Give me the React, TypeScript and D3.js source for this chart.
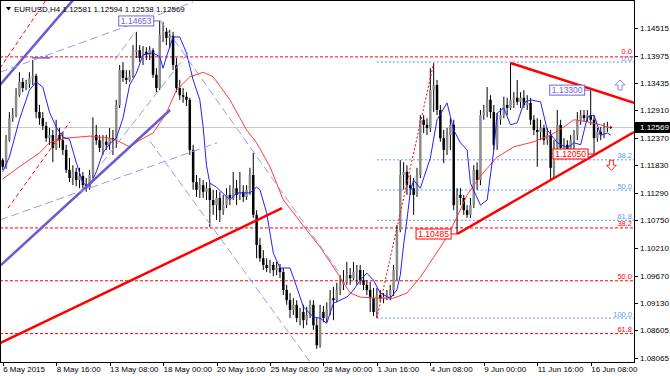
import React from 'react';
import * as d3 from 'd3';

const symbolName = 'EURUSD,H4';
const lastOHLC = [1.12581, 1.12594, 1.12538, 1.12569];

const timeLabels = ['6 May 2015', '8 May 16:00', '13 May 08:00', '18 May 00:00', '20 May 16:00', '25 May 08:00', '28 May 00:00', '1 Jun 16:00', '4 Jun 08:00', '9 Jun 00:00', '11 Jun 16:00', '16 Jun 08:00'];
const timeLabelBars = [0, 16, 32, 48, 64, 80, 96, 112, 128, 144, 160, 176];
const priceTicks = [1.14515, 1.13975, 1.13435, 1.1291, 1.1237, 1.1183, 1.1129, 1.1075, 1.1021, 1.0967, 1.0913, 1.08605, 1.08065];

const firstOpen = 1.1193;
const closes = [1.1180,1.1232,1.1275,1.1281,1.1320,1.1346,1.1334,1.1342,1.1354,1.1358,
1.1287,1.1275,1.1260,1.1236,1.1242,1.1217,1.1242,1.1232,1.1213,1.1174,
1.1158,1.1170,1.1154,1.1162,1.1144,1.1138,1.1164,1.1242,1.1232,1.1217,
1.1229,1.1223,1.1236,1.1232,1.1301,1.1369,1.1354,1.1350,1.1358,1.1405,
1.1408,1.1393,1.1405,1.1399,1.1408,1.1360,1.1334,1.1438,1.1444,1.1432,
1.1436,1.1379,1.1334,1.1320,1.1317,1.1311,1.1213,1.1150,1.1135,1.1144,
1.1131,1.1138,1.1115,1.1105,1.1119,1.1095,1.1105,1.1125,1.1119,1.1138,
1.1125,1.1131,1.1121,1.1135,1.1164,1.1086,1.1027,1.1001,1.0988,1.0982,
1.0988,1.0978,1.0982,1.0974,1.0939,1.0919,1.0900,1.0910,1.0884,1.0896,
1.0880,1.0890,1.0910,1.0870,1.0831,1.0896,1.0884,1.0900,1.0923,1.0919,
1.0939,1.0949,1.0955,1.0968,1.0962,1.0974,1.0978,1.0958,1.0949,1.0939,
1.0923,1.0896,1.0929,1.0923,1.0925,1.0929,1.0939,1.0978,1.1056,1.1164,
1.1170,1.1144,1.1138,1.1125,1.1164,1.1272,1.1262,1.1256,1.1330,1.1340,
1.1291,1.1236,1.1213,1.1242,1.1262,1.1105,1.1125,1.1119,1.1095,1.1086,
1.1105,1.1174,1.1154,1.1281,1.1287,1.1311,1.1287,1.1223,1.1272,1.1281,
1.1301,1.1295,1.1311,1.1315,1.1307,1.1315,1.1301,1.1305,1.1272,1.1252,
1.1248,1.1256,1.1232,1.1242,1.1178,1.1217,1.1262,1.1217,1.1223,1.1213,
1.1232,1.1242,1.1272,1.1281,1.1275,1.1281,1.1272,1.1236,1.1248,1.1242,
1.1256,1.12581,1.12569];
const highs = [1.1197,1.1242,1.1287,1.1295,1.1334,1.1365,1.1354,1.1350,1.1365,1.1389,
1.1362,1.1301,1.1287,1.1268,1.1256,1.1252,1.1272,1.1256,1.1248,1.1223,
1.1197,1.1183,1.1178,1.1178,1.1170,1.1158,1.1174,1.1277,1.1262,1.1242,
1.1242,1.1242,1.1256,1.1252,1.1311,1.1379,1.1385,1.1369,1.1369,1.1418,
1.1444,1.1418,1.1416,1.1414,1.1416,1.1412,1.1373,1.14653,1.1463,1.1452,
1.1448,1.1444,1.1393,1.1350,1.1334,1.1326,1.1315,1.1223,1.1164,1.1158,
1.1154,1.1150,1.1148,1.1135,1.1135,1.1131,1.1125,1.1138,1.1144,1.1170,
1.1154,1.1170,1.1144,1.1144,1.1178,1.1207,1.1095,1.1041,1.1017,1.1001,
1.0998,1.0994,1.0994,1.0990,1.0982,1.0949,1.0933,1.0923,1.0919,1.0904,
1.0910,1.0906,1.0919,1.0919,1.0884,1.0910,1.0908,1.0915,1.0939,1.0945,
1.0953,1.0968,1.0978,1.0994,1.0982,1.0994,1.0988,1.0988,1.0978,1.0958,
1.0955,1.0943,1.0943,1.0939,1.0933,1.0939,1.0949,1.0988,1.1066,1.1193,
1.1189,1.1183,1.1164,1.1158,1.1178,1.1281,1.1281,1.1275,1.1373,1.1383,
1.1350,1.1301,1.1252,1.1256,1.1275,1.1272,1.1138,1.1138,1.1125,1.1105,
1.1119,1.1183,1.1189,1.1291,1.1301,1.1336,1.1320,1.1301,1.1285,1.1295,
1.1317,1.1315,1.1383,1.1326,1.1350,1.1326,1.1330,1.1320,1.1315,1.1281,
1.1275,1.1272,1.1262,1.1256,1.1252,1.1232,1.1291,1.1272,1.1236,1.1232,
1.1242,1.1252,1.1287,1.1291,1.1291,1.1291,1.13300,1.1281,1.1256,1.1258,
1.1266,1.1268,1.12594];
const lows = [1.1174,1.1176,1.1229,1.1268,1.1277,1.1317,1.1326,1.1330,1.1334,1.1340,
1.1275,1.1262,1.1252,1.1229,1.1223,1.1189,1.1213,1.1217,1.1203,1.1168,
1.1150,1.1144,1.1142,1.1138,1.1138,1.1131,1.1135,1.1158,1.1223,1.1209,
1.1203,1.1213,1.1213,1.1203,1.1217,1.1295,1.1346,1.1342,1.1346,1.1354,
1.1393,1.1385,1.1379,1.1389,1.1389,1.1354,1.1326,1.1330,1.1424,1.1418,
1.1412,1.1369,1.1326,1.1311,1.1305,1.1299,1.1203,1.1135,1.1121,1.1119,
1.1119,1.1115,1.1062,1.1086,1.1076,1.1072,1.1086,1.1099,1.1105,1.1115,
1.1105,1.1115,1.1111,1.1115,1.1125,1.1080,1.1001,1.0994,1.0978,1.0974,
1.0972,1.0966,1.0968,1.0962,1.0929,1.0910,1.0884,1.0890,1.0876,1.0870,
1.0864,1.0870,1.0884,1.0861,1.0824,1.0826,1.0876,1.0876,1.0890,1.0880,
1.0915,1.0929,1.0939,1.0949,1.0949,1.0958,1.0949,1.0949,1.0939,1.0929,
1.0896,1.0888,1.0884,1.0915,1.0913,1.0919,1.0919,1.0927,1.0958,1.1052,
1.1135,1.1125,1.1125,1.1086,1.1121,1.1158,1.1246,1.1242,1.1248,1.1287,
1.1281,1.1229,1.1187,1.1203,1.1213,1.1095,1.10485,1.1105,1.1086,1.1080,
1.1080,1.1099,1.1135,1.1144,1.1272,1.1277,1.1275,1.1213,1.1213,1.1262,
1.1275,1.1281,1.1291,1.1295,1.1301,1.1295,1.1295,1.1291,1.1262,1.1242,
1.1180,1.1232,1.1223,1.1223,1.1154,1.1158,1.1209,1.1209,1.1209,1.1203,
1.1207,1.1213,1.1232,1.1262,1.1268,1.1268,1.1262,1.12050,1.1229,1.1232,
1.1236,1.1248,1.12538];

// moving averages traced as [bar, price]
const redMA = [[0,1.1156],[5,1.1180],[11,1.1207],[14,1.1227],[19,1.1236],[26,1.1240],[32,1.1236],[35,1.1229],[38,1.1219],[41,1.1232],[45,1.1246],[49,1.1285],[52,1.1330],[56,1.1356],[60,1.1365],[63,1.1356],[68,1.1311],[73,1.1252],[76,1.1227],[80,1.1180],[84,1.1115],[87,1.1090],[91,1.1056],[95,1.1023],[101,1.0964],[104,1.0933],[107,1.0925],[112,1.0923],[117,1.0923],[121,1.0933],[125,1.0964],[129,1.1003],[133,1.1043],[136,1.1082],[139,1.1125],[143,1.1162],[148,1.1199],[153,1.1219],[159,1.1229],[164,1.1242],[168,1.1258],[171,1.1272],[175,1.1268],[179,1.1262],[182,1.1256]];
const blueMA = [[0,1.1170],[2,1.1199],[5,1.1272],[8,1.1330],[10,1.1346],[12,1.1336],[14,1.1287],[16,1.1258],[18,1.1238],[20,1.1234],[22,1.1189],[24,1.1148],[26,1.1142],[28,1.1170],[30,1.1207],[32,1.1225],[34,1.1236],[36,1.1275],[38,1.1340],[40,1.1363],[42,1.1399],[45,1.1403],[47,1.1395],[48,1.1373],[49,1.1395],[51,1.1434],[53,1.1434],[55,1.1403],[57,1.1350],[59,1.1311],[60,1.1258],[61,1.1183],[62,1.1148],[64,1.1140],[68,1.1115],[70,1.1129],[74,1.1129],[76,1.1140],[77,1.1135],[79,1.1090],[81,1.1011],[83,1.0982],[86,1.0982],[88,1.0945],[90,1.0906],[93,1.0886],[95,1.0884],[97,1.0874],[99,1.0913],[101,1.0919],[103,1.0925],[105,1.0939],[107,1.0958],[109,1.0972],[111,1.0958],[113,1.0933],[116,1.0923],[118,1.0939],[119,1.0968],[120,1.1027],[121,1.1076],[122,1.1131],[123,1.1154],[125,1.1138],[128,1.1197],[130,1.1272],[133,1.1305],[135,1.1252],[137,1.1227],[139,1.1213],[140,1.1148],[143,1.1105],[145,1.1115],[147,1.1213],[148,1.1285],[150,1.1295],[152,1.1262],[154,1.1266],[156,1.1305],[158,1.1311],[161,1.1307],[163,1.1252],[166,1.1227],[169,1.1217],[171,1.1227],[173,1.1223],[175,1.1277],[177,1.1281],[179,1.1242],[181,1.1246],[182,1.1242]];

const redFibRange = [1.1395, 1.0519];
const redFibLevels = [0, 38.2, 50, 61.8];
const blueFibRange = [1.1385, 1.0884];
const blueFibLevels = [0, 38.2, 50, 61.8, 100];
const blueFibStartBar = 112;

const trendLines = [
  { kind: 'thick', from: [-0.81, 1.1340], to: [21.05, 1.1506] },
  { kind: 'thick', from: [-0.81, 1.0986], to: [50.1, 1.1291] },
  { kind: 'thin', from: [8.8, 1.1393], to: [14.2, 1.1393] },
  { kind: 'lav', from: [-0.81, 1.1365], to: [57.0, 1.1502] },
  { kind: 'lav', from: [-0.81, 1.1076], to: [64.2, 1.1227] },
  { kind: 'lav', from: [29.7, 1.1187], to: [56.1, 1.1408] },
  { kind: 'lav', from: [33.6, 1.1389], to: [39.0, 1.1438] },
  { kind: 'lav', from: [47.1, 1.1467], to: [101.0, 1.0970] },
  { kind: 'lav', from: [44.1, 1.1230], to: [92.0, 1.0798] },
  { kind: 'redDash', from: [-0.81, 1.1373], to: [12.96, 1.1506] },
  { kind: 'redDash', from: [1.59, 1.1099], to: [20.15, 1.1268] },
  { kind: 'redDot', from: [112, 1.0884], to: [129, 1.1383] },
  { kind: 'redThick', from: [-0.81, 1.0835], to: [83.6, 1.1099] },
  { kind: 'redThick', from: [152, 1.1383], to: [189, 1.1305] },
  { kind: 'redThick', from: [136, 1.10485], to: [189, 1.1248] },
];

const priceLabels = [
  { text: '1.14653', bar: 47, price: 1.14653, kind: 'blue' },
  { text: '1.13300', bar: 176, price: 1.133, kind: 'blue' },
  { text: '1.12050', bar: 177, price: 1.1205, kind: 'red' },
  { text: '1.10485', bar: 136, price: 1.10485, kind: 'red' },
];
const arrows = [
  { bar: 184.8, price: 1.1340, dir: 'up' },
  { bar: 182.2, price: 1.1183, dir: 'down' },
];

const STYLES: any = {
  thick: { stroke: '#6a5acd', width: 2.5, dash: undefined },
  thin: { stroke: '#6a5acd', width: 1.5, dash: undefined },
  lav: { stroke: '#9a9ae8', width: 1, dash: '8,4' },
  redDash: { stroke: '#ff0000', width: 1, dash: '4,3' },
  redDot: { stroke: '#ff0000', width: 1, dash: '2,2' },
  redThick: { stroke: '#ff0000', width: 2.5, dash: undefined },
};
const LABEL_COLORS: any = { blue: '#6f64d8', red: '#ff0000' };

const PLOT_R = 634;
const PLOT_B = 362;
const FONT = "'Liberation Sans', Arial, sans-serif";

export default function App() {
  const x = d3.scaleLinear().domain([0, 176]).range([2.7, 590.7]);
  const y = d3.scaleLinear().domain([1.08065, 1.14515]).range([357.7, 28]);
  const line = d3.line<number[]>().x(d => x(d[0])).y(d => y(d[1]));

  const candles = closes.map((c, i) => {
    const o = i === 0 ? firstOpen : closes[i - 1];
    const h = Math.max(highs[i], o, c);
    const l = Math.min(lows[i], o, c);
    return { i, o, h, l, c };
  });

  const lastPrice = lastOHLC[3];
  const fibY = (range: number[], lv: number) => y(range[0] - (range[0] - range[1]) * lv / 100);

  const arrowPts = (cx: number, cy: number, up: boolean) => {
    const s = up ? 1 : -1;
    const pts = [[0, -5], [5, 0], [2, 0], [2, 5], [-2, 5], [-2, 0], [-5, 0]];
    return pts.map(p => `${cx + p[0]},${cy + p[1] * s}`).join(' ');
  };

  return (
    <svg width={670} height={376} style={{ position: 'absolute', left: 0, top: 0, background: '#fff' }} fontFamily={FONT} fontSize={8}>
      <defs>
        <clipPath id="plot"><rect x={0} y={0} width={PLOT_R} height={PLOT_B} /></clipPath>
      </defs>
      <rect x={0} y={0} width={670} height={376} fill="#fff" />
      <g clipPath="url(#plot)">
        <line x1={0} x2={PLOT_R} y1={y(lastPrice)} y2={y(lastPrice)} stroke="#c8c8c8" strokeWidth={1} />
        {redFibLevels.map(lv => (
          <line key={'rf' + lv} x1={0} x2={PLOT_R} y1={fibY(redFibRange, lv)} y2={fibY(redFibRange, lv)} stroke="#ff0000" strokeWidth={1} strokeDasharray="3,2" />
        ))}
        {blueFibLevels.map(lv => (
          <line key={'bf' + lv} x1={x(blueFibStartBar)} x2={PLOT_R} y1={fibY(blueFibRange, lv)} y2={fibY(blueFibRange, lv)} stroke="#6495ed" strokeWidth={1} strokeDasharray="2,2" />
        ))}
        {candles.map(d => {
          const cx = x(d.i);
          const top = y(Math.max(d.o, d.c));
          const bot = y(Math.min(d.o, d.c));
          const bull = d.c >= d.o;
          return (
            <g key={d.i}>
              <line x1={cx} x2={cx} y1={y(d.h)} y2={y(d.l)} stroke="#000" strokeWidth={1} />
              <rect x={cx - 1.25} width={2.5} y={top} height={Math.max(1, bot - top)} fill={bull ? '#8c8c8c' : '#000'} />
            </g>
          );
        })}
        <path d={line(redMA as any) || ''} fill="none" stroke="#ff3b3b" strokeWidth={1} />
        <path d={line(blueMA as any) || ''} fill="none" stroke="#2020ff" strokeWidth={1} />
        {trendLines.map((t, k) => {
          const s = STYLES[t.kind];
          return <line key={'t' + k} x1={x(t.from[0])} y1={y(t.from[1])} x2={x(t.to[0])} y2={y(t.to[1])} stroke={s.stroke} strokeWidth={s.width} strokeDasharray={s.dash} />;
        })}
        {priceLabels.map((p, k) => {
          const col = LABEL_COLORS[p.kind];
          const right = x(p.bar) - 6;
          const cy = y(p.price);
          return (
            <g key={'pl' + k}>
              <line x1={right} x2={x(p.bar)} y1={cy} y2={cy} stroke={col} strokeWidth={1} />
              <rect x={right - 35} y={cy - 5} width={35} height={10} fill="#fff" stroke={col} strokeWidth={1} />
              <text x={right - 17.5} y={cy + 3} textAnchor="middle" fill={col} fontSize={8.5}>{p.text}</text>
            </g>
          );
        })}
        {arrows.map((a, k) => (
          <polygon key={'a' + k} points={arrowPts(x(a.bar), y(a.price), a.dir === 'up')} fill="#fff" stroke={a.dir === 'up' ? '#8a84e6' : '#ff2020'} strokeWidth={1} />
        ))}
        {redFibLevels.map(lv => (
          <text key={'rft' + lv} x={632} y={fibY(redFibRange, lv) - (lv === 0 ? 3 : 1.5)} textAnchor="end" fill="#ff0000" fontSize={7.5}>{lv.toFixed(1)}</text>
        ))}
        {blueFibLevels.map(lv => (
          <text key={'bft' + lv} x={632} y={fibY(blueFibRange, lv) - (lv === 0 ? 0.5 : 1.5)} textAnchor="end" fill="#6495ed" fontSize={7.5}>{lv.toFixed(1)}</text>
        ))}
      </g>
      <rect x={0.5} y={0.5} width={PLOT_R} height={PLOT_B} fill="none" stroke="#000" strokeWidth={1} />
      {priceTicks.map(p => (
        <g key={'pt' + p}>
          <line x1={PLOT_R} x2={PLOT_R + 4} y1={Math.round(y(p)) + 0.5} y2={Math.round(y(p)) + 0.5} stroke="#000" />
          <text x={640} y={y(p) + 3} fill="#000">{p.toFixed(5)}</text>
        </g>
      ))}
      <rect x={PLOT_R + 1} y={y(lastPrice) - 5.5} width={36} height={11} fill="#000" />
      <text x={640} y={y(lastPrice) + 3} fill="#fff">{lastPrice.toFixed(5)}</text>
      {timeLabelBars.map((b, k) => (
        <g key={'tl' + b}>
          <line x1={Math.round(x(b)) + 0.5} x2={Math.round(x(b)) + 0.5} y1={PLOT_B} y2={PLOT_B + 4} stroke="#000" />
          <text x={x(b) + 0.5} y={372} fill="#000">{timeLabels[k]}</text>
        </g>
      ))}
      <polygon points="6,7 11,7 8.5,10.5" fill="#000" />
      <text x={14} y={12} fill="#000">{symbolName + '  ' + lastOHLC.map(v => v.toFixed(5)).join(' ')}</text>
    </svg>
  );
}
